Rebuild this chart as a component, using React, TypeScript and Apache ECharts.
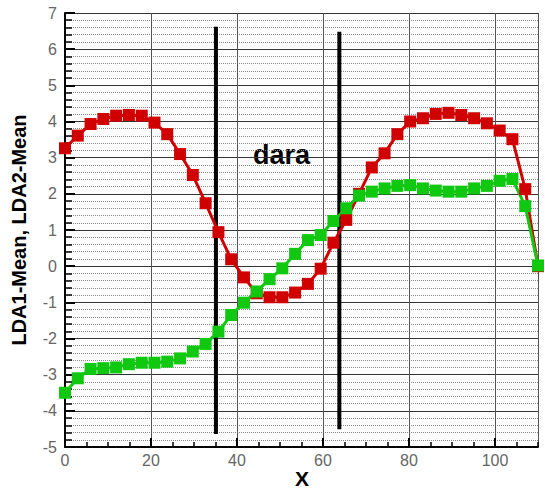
import React, { useEffect, useRef } from "react";
import * as echarts from "echarts";

// x positions of the samples
const xValues = [
  0, 2.97, 5.95, 8.92, 11.89, 14.86, 17.84, 20.81, 23.78, 26.76, 29.73, 32.7,
  35.68, 38.65, 41.62, 44.59, 47.57, 50.54, 53.51, 56.49, 59.46, 62.43, 65.41,
  68.38, 71.35, 74.32, 77.3, 80.27, 83.24, 86.22, 89.19, 92.16, 95.14, 98.11,
  101.08, 104.05, 107.03, 110,
];

const lda1Mean = [
  3.26, 3.61, 3.93, 4.07, 4.16, 4.18, 4.16, 3.97, 3.65, 3.1, 2.52, 1.74, 0.94,
  0.19, -0.31, -0.75, -0.86, -0.86, -0.73, -0.49, -0.07, 0.65, 1.28, 2.0, 2.73,
  3.12, 3.65, 4.0, 4.09, 4.21, 4.24, 4.18, 4.09, 3.95, 3.75, 3.51, 2.13, 0.0,
];

const lda2Mean = [
  -3.5, -3.1, -2.84, -2.82, -2.8, -2.71, -2.67, -2.67, -2.64, -2.55, -2.36,
  -2.15, -1.81, -1.35, -1.01, -0.7, -0.36, -0.06, 0.34, 0.72, 0.86, 1.25, 1.6,
  1.95, 2.06, 2.15, 2.22, 2.24, 2.15, 2.09, 2.06, 2.06, 2.15, 2.22, 2.36, 2.41,
  1.66, 0.02,
];

// vertical divider lines: [x, yTop, yBottom]
const dividerA = [35.1, 6.62, -4.64];
const dividerB = [63.8, 6.48, -4.51];

const xTickLabels = ["0", "20", "40", "60", "80", "100"];
const annotation = "dara";
const xAxisTitle = "X";
const yAxisTitle = "LDA1-Mean, LDA2-Mean";

const FONT = "'Liberation Sans', Arial, sans-serif";

export default function App() {
  const ref = useRef<HTMLDivElement>(null);

  useEffect(() => {
    if (!ref.current) return;
    const chart = echarts.init(ref.current, null, { renderer: "svg" });
    const red = xValues.map((x, i) => [x, lda1Mean[i]]);
    const green = xValues.map((x, i) => [x, lda2Mean[i]]);
    const divider = (d: number[]) => [
      [d[0], d[1]],
      [d[0], d[2]],
    ];

    chart.setOption({
      animation: false,
      backgroundColor: "#ffffff",
      grid: {
        left: 65,
        right: 7,
        top: 13,
        bottom: 45,
        containLabel: false,
        outerBoundsMode: "none",
      },
      xAxis: [
        {
          type: "value",
          min: 0,
          max: 110,
          interval: 20,
          axisLine: { onZero: false, lineStyle: { color: "#000", width: 2 } },
          axisTick: { inside: true, length: 9, lineStyle: { color: "#000", width: 2 } },
          axisLabel: {
            showMaxLabel: false,
            margin: 5,
            color: "#666",
            fontFamily: FONT,
            fontSize: 16,
            formatter: (v: number) =>
              xTickLabels.includes(String(v)) ? String(v) : "",
          },
          splitLine: { show: true, lineStyle: { color: "#555", width: 1 } },
        },
        {
          type: "value",
          min: 0,
          max: 110,
          interval: 5,
          position: "bottom",
          axisLine: { show: false, onZero: false },
          axisTick: { inside: true, length: 5, lineStyle: { color: "#000", width: 1.5 } },
          axisLabel: { show: false },
          splitLine: { show: false },
        },
      ],
      yAxis: {
        type: "value",
        min: -5,
        max: 7,
        interval: 1,
        name: yAxisTitle,
        nameLocation: "middle",
        nameGap: 36,
        nameTextStyle: {
          fontFamily: FONT,
          fontWeight: "bold",
          fontSize: 20,
          color: "#000",
        },
        axisLine: { onZero: false, lineStyle: { color: "#000", width: 2 } },
        axisTick: { inside: true, length: 10, lineStyle: { color: "#000", width: 2 } },
        minorTick: {
          show: true,
          splitNumber: 5,
          length: 7,
          lineStyle: { color: "#000", width: 1.5 },
        },
        axisLabel: {
          margin: 8,
          color: "#666",
          fontFamily: FONT,
          fontSize: 16,
        },
        splitLine: { show: true, lineStyle: { color: "#333", width: 1 } },
        minorSplitLine: {
          show: true,
          lineStyle: { color: "#888", width: 1, type: "dotted" },
        },
      },
      series: [
        {
          name: "divider1",
          type: "line",
          data: divider(dividerA),
          symbol: "none",
          lineStyle: { color: "#000", width: 4 },
          silent: true,
        },
        {
          name: "divider2",
          type: "line",
          data: divider(dividerB),
          symbol: "none",
          lineStyle: { color: "#000", width: 4 },
          silent: true,
        },
        {
          name: "LDA1-Mean",
          type: "line",
          data: red,
          symbol: "rect",
          symbolSize: 12,
          lineStyle: { color: "#d10000", width: 3 },
          itemStyle: { color: "#d10000" },
        },
        {
          name: "LDA2-Mean",
          type: "line",
          data: green,
          symbol: "rect",
          symbolSize: 12,
          lineStyle: { color: "#10c810", width: 3 },
          itemStyle: { color: "#10c810" },
        },
      ],
      graphic: [
        {
          type: "text",
          left: 253,
          top: 141,
          style: {
            text: annotation,
            fontFamily: FONT,
            fontWeight: "bold",
            fontSize: 27,
            fill: "#000",
          },
        },
        {
          type: "text",
          x: 302,
          y: 478,
          style: {
            text: xAxisTitle,
            fontFamily: FONT,
            fontWeight: "bold",
            fontSize: 21,
            fill: "#000",
            align: "center",
            verticalAlign: "middle",
          },
        },
      ],
    });
    return () => chart.dispose();
  }, []);

  return (
    <div
      ref={ref}
      style={{ position: "fixed", left: 0, top: 0, width: 545, height: 492, background: "#fff" }}
    />
  );
}
